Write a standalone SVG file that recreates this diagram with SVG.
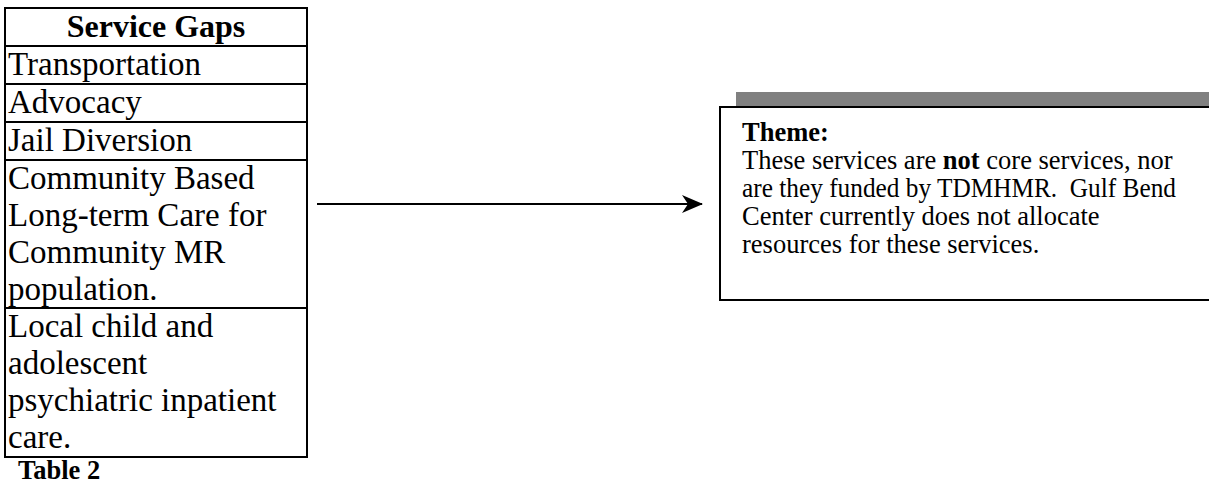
<svg xmlns="http://www.w3.org/2000/svg" width="1209" height="486" viewBox="0 0 1209 486">
<style>
.t{font-family:"Liberation Serif","Times New Roman",serif;font-size:33px;fill:#000}
.h{font-size:32px;font-weight:bold}
.b{font-weight:bold}
.th{font-family:"Liberation Serif","Times New Roman",serif;font-size:26.5px;fill:#000;white-space:pre}
.cell{fill:#fff;stroke:#000;stroke-width:2}
</style>
<defs>
<marker id="ah" markerWidth="22" markerHeight="18" refX="20" refY="9" orient="auto" markerUnits="userSpaceOnUse">
<path d="M0,0 L21,9 L0,18 L6,9 Z" fill="#000"/>
</marker>
</defs>
<rect width="1209" height="486" fill="#fff"/>
<g id="table">
<rect class="cell" x="5" y="8" width="302" height="38"/>
<rect class="cell" x="5" y="46" width="302" height="38"/>
<rect class="cell" x="5" y="84" width="302" height="38"/>
<rect class="cell" x="5" y="122" width="302" height="38"/>
<rect class="cell" x="5" y="160" width="302" height="148"/>
<rect class="cell" x="5" y="308" width="302" height="149"/>
<text class="t h" x="156" y="37" text-anchor="middle">Service Gaps</text>
<text class="t" x="8" y="75">Transportation</text>
<text class="t" x="8" y="113">Advocacy</text>
<text class="t" x="8" y="151">Jail Diversion</text>
<text class="t" x="8" y="189">Community Based</text>
<text class="t" x="8" y="226">Long-term Care for</text>
<text class="t" x="8" y="263">Community MR</text>
<text class="t" x="8" y="300">population.</text>
<text class="t" x="8" y="337">Local child and</text>
<text class="t" x="8" y="374">adolescent</text>
<text class="t" x="8" y="411">psychiatric inpatient</text>
<text class="t" x="8" y="448">care.</text>
</g>
<g id="caption">
<text class="th b" x="18" y="479" style="font-size:26.5px">Table 2</text>
</g>
<g id="connectors">
<line x1="317" y1="204" x2="702" y2="204" stroke="#000" stroke-width="2" marker-end="url(#ah)"/>
</g>
<g id="theme">
<rect x="736" y="92" width="490" height="193" fill="#808080"/>
<rect x="720" y="107" width="500" height="193" fill="#fff" stroke="#000" stroke-width="2"/>
<text class="th b" x="742" y="141">Theme:</text>
<text class="th" x="742" y="169">These services are <tspan class="b">not</tspan> core services, nor</text>
<text class="th" x="742" y="197" textLength="434" lengthAdjust="spacingAndGlyphs">are they funded by TDMHMR.  Gulf Bend</text>
<text class="th" x="742" y="225">Center currently does not allocate</text>
<text class="th" x="742" y="253">resources for these services.</text>
</g>
</svg>
